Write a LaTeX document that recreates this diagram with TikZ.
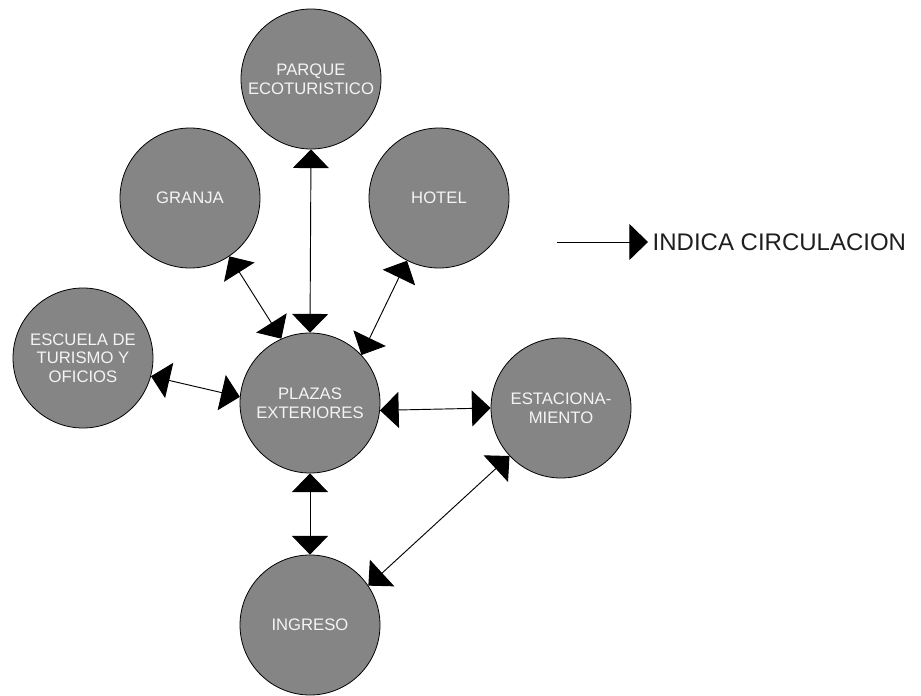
\documentclass[tikz,border=0pt]{standalone}
\usepackage{fontspec}
\setmainfont{Liberation Sans}
\usepackage{xcolor}
\usepackage{tikz}
\usetikzlibrary{arrows.meta}
\definecolor{zonagris}{HTML}{858585}
\definecolor{letra}{HTML}{F4F4F4}
\definecolor{tinta}{HTML}{1E1E1E}

\begin{document}
\begin{tikzpicture}[x=0.75pt,y=-0.75pt,
  zona/.style={circle,draw=black,line width=0.6pt,fill=zonagris,minimum size=105pt,inner sep=0pt,
    text=letra,align=center,font=\fontsize{12.5}{14}\selectfont},
  circ/.style={line width=0.7pt,{Triangle[width=27pt,length=14pt]}-{Triangle[width=27pt,length=14pt]}}]
\useasboundingbox (0,0) rectangle (921,696);
\node[zona] (parque) at (311,79) {PARQUE\\ECOTURISTICO};
\node[zona] (granja) at (190,198) {GRANJA};
\node[zona] (hotel) at (439,198) {HOTEL};
\node[zona] (escuela) at (83,358) {ESCUELA DE\\TURISMO Y\\OFICIOS};
\node[zona] (plazas) at (310,403) {PLAZAS\\EXTERIORES};
\node[zona] (estac) at (561,408) {ESTACIONA-\\MIENTO};
\node[zona] (ingreso) at (310,625) {INGRESO};
\draw[circ] (parque.south) -- (plazas.north);
\draw[circ] (granja.304) -- (plazas.114);
\draw[circ] (hotel.243) -- (plazas.43);
\draw[circ] (escuela.345) -- (plazas.175);
\draw[circ] (plazas.-6) -- (estac.west);
\draw[circ] (plazas.south) -- (ingreso.north);
\draw[circ] (estac.223) -- (ingreso.34);
% leyenda
\coordinate (ley) at (557,242);
\node[anchor=west,text=tinta,font=\fontsize{18}{20}\selectfont] (indica) at (648,242) {INDICA CIRCULACION};
\draw[line width=0.7pt,-{Triangle[width=27pt,length=14pt]}] (ley) -- (indica.west);
\end{tikzpicture}
\end{document}
